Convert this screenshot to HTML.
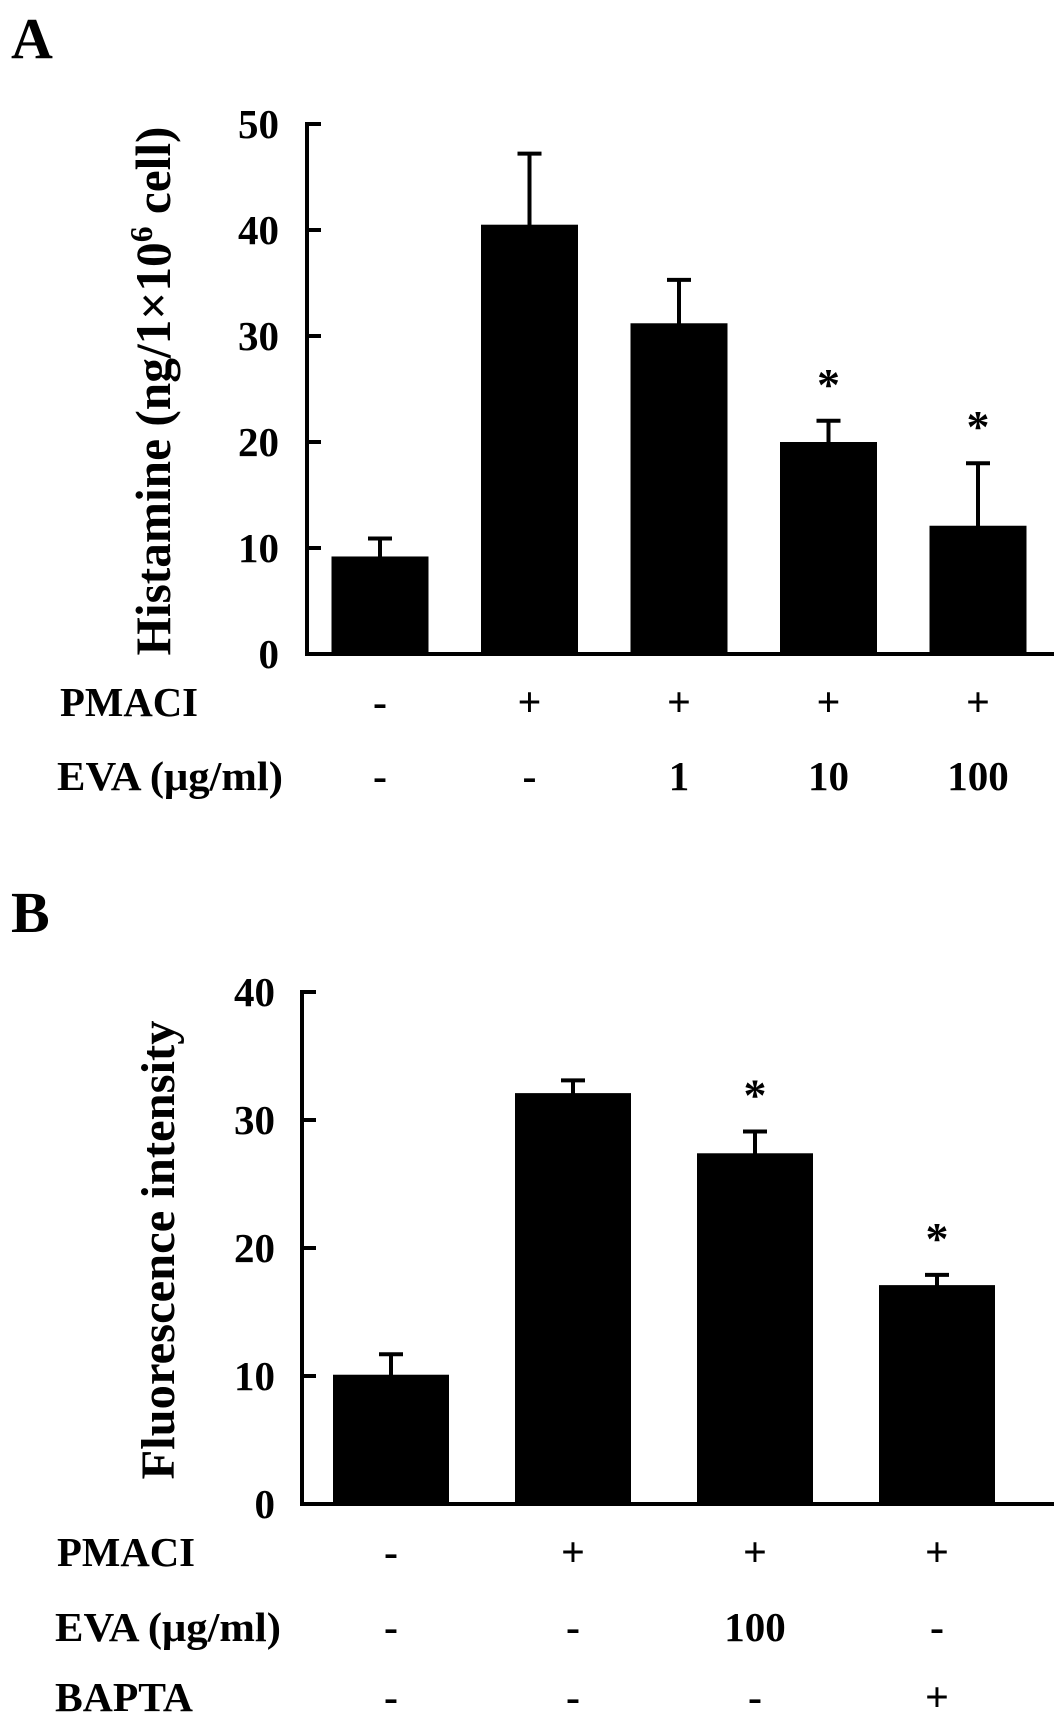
<!DOCTYPE html>
<html><head><meta charset="utf-8"><style>
html,body{margin:0;padding:0;background:#fff}
svg{display:block}
text{font-family:"Liberation Serif",serif;font-weight:bold;fill:#000}
</style></head><body>
<svg id="fig" width="1063" height="1723" viewBox="0 0 1063 1723" xmlns="http://www.w3.org/2000/svg">
<text x="11" y="58" font-size="58">A</text>
<text x="11" y="932" font-size="58">B</text>
<text transform="translate(170,391) rotate(-90)" text-anchor="middle" font-size="50" textLength="529" lengthAdjust="spacingAndGlyphs">Histamine (ng/1×10<tspan dy="-18" font-size="32">6</tspan><tspan dy="18"> cell)</tspan></text>
<text transform="translate(174,1250) rotate(-90)" text-anchor="middle" font-size="48" textLength="459" lengthAdjust="spacingAndGlyphs">Fluorescence intensity</text>
<g id="ga"></g><g id="gb"></g>
</svg>
<script>
const aValues=[9.2,40.5,31.2,20.0,12.1];
const aErrors=[1.7,6.7,4.1,2.0,5.9];
const aStars=[false,false,false,true,true];
const aTicks=[0,10,20,30,40,50];
const aPmaci=["-","+","+","+","+"];
const aEva=["-","-","1","10","100"];
const bValues=[10.1,32.1,27.4,17.1];
const bErrors=[1.6,1.0,1.7,0.8];
const bStars=[false,false,true,true];
const bTicks=[0,10,20,30,40];
const bPmaci=["-","+","+","+"];
const bEva=["-","-","100","-"];
const bBapta=["-","-","-","+"];
const NS="http://www.w3.org/2000/svg";
function mk(parent,tag,attrs){const e=document.createElementNS(NS,tag);for(const k in attrs)e.setAttribute(k,attrs[k]);parent.appendChild(e);return e;}
function panel(g,cfg,vals,errs,stars,ticks,rows,pfx){
  const y=v=>cfg.y0-(v-ticks[0])/(ticks[ticks.length-1]-ticks[0])*(cfg.y0-cfg.yTop);
  const cx=i=>cfg.c0+i*cfg.step;
  let e=mk(g,'line',{x1:cfg.ax,y1:cfg.yTop-2,x2:cfg.ax,y2:cfg.y0+2,stroke:'#000','stroke-width':4});
  
  
  e=mk(g,'line',{x1:cfg.ax-2,y1:cfg.y0,x2:cfg.xEnd,y2:cfg.y0,stroke:'#000','stroke-width':4});
  
  
  ticks.forEach(t=>{
    const ty=y(t);
    if(t!==ticks[0]){e=mk(g,'line',{x1:cfg.ax,y1:ty,x2:cfg.ax+14,y2:ty,stroke:'#000','stroke-width':4});
    
    }
    e=mk(g,'text',{x:cfg.lx,y:ty+14,'text-anchor':'end','font-size':41});e.textContent=t;
    
    
  });
  vals.forEach((v,i)=>{
    const c=cx(i),top=y(v),et=y(v+errs[i]);
    e=mk(g,'line',{x1:c,y1:top+2,x2:c,y2:et,stroke:'#000','stroke-width':4});
    
    
    e=mk(g,'line',{x1:c-12,y1:et,x2:c+12,y2:et,stroke:'#000','stroke-width':4});
    
    
    e=mk(g,'rect',{x:c-cfg.bw/2,y:top,width:cfg.bw,height:cfg.y0-top,fill:'#000'});
    
    
    if(stars[i]){e=mk(g,'text',{x:c,y:et-21,'text-anchor':'middle','font-size':46});e.textContent='*';
      
      }
  });
  rows.forEach(r=>{
    e=mk(g,'text',{x:r.x,y:r.y+14,'font-size':41,textLength:r.w,lengthAdjust:'spacingAndGlyphs'});e.textContent=r.label;
    
    
    r.vals.forEach((s,i)=>{
      const sym=(s==='+'||s==='-');
      e=mk(g,'text',{x:cx(i),y:r.y+14,'text-anchor':'middle','font-size':sym?42:41,'font-weight':sym?'normal':'bold'});
      e.textContent=s;
      
      
    });
  });
}
panel(document.getElementById('ga'),{ax:307,yTop:124,y0:654,xEnd:1054,c0:380,step:149.5,bw:97,lx:279},
  aValues,aErrors,aStars,aTicks,
  [{label:"PMACI",x:60,y:702,w:138,vals:aPmaci},{label:"EVA (μg/ml)",x:57,y:776,w:226,vals:aEva}],'panel-a');
panel(document.getElementById('gb'),{ax:302,yTop:992,y0:1504,xEnd:1054,c0:391,step:182,bw:116,lx:275},
  bValues,bErrors,bStars,bTicks,
  [{label:"PMACI",x:57,y:1552,w:138,vals:bPmaci},{label:"EVA (μg/ml)",x:55,y:1627,w:226,vals:bEva},{label:"BAPTA",x:55,y:1697,w:138,vals:bBapta}],'panel-b');
</script>
</body></html>
